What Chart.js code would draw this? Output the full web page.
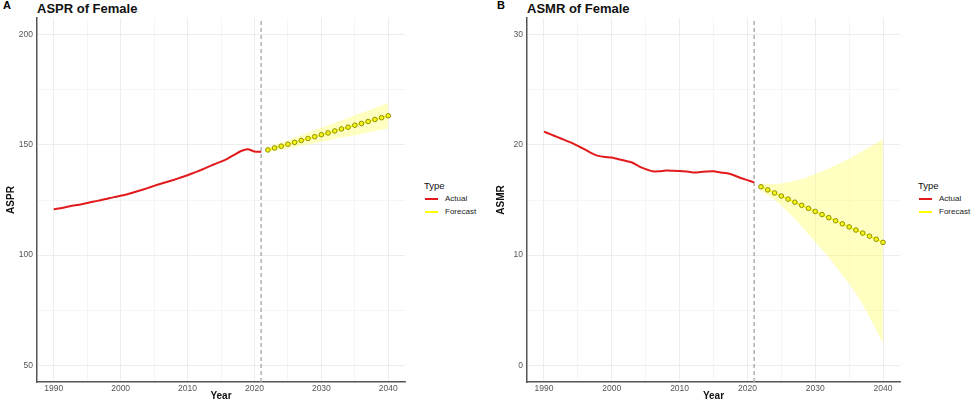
<!DOCTYPE html>
<html>
<head>
<meta charset="utf-8">
<script src="https://cdn.jsdelivr.net/npm/chart.js@4.4.0/dist/chart.umd.min.js"></script>
<style>
  body { margin: 0; background: #fff; width: 972px; height: 402px; overflow: hidden;
         font-family: "Liberation Sans", Arial, sans-serif; position: relative; }
  .box { position: absolute; top: 0; height: 402px; }
  .tag { position: absolute; font-weight: bold; font-size: 11px; line-height: 12px; color: #000; }
  .title { position: absolute; font-weight: bold; font-size: 13px; line-height: 15px; color: #111; }
  .legend { position: absolute; color: #222; }
  .legend .head { font-size: 9.5px; line-height: 11px; color: #111; }
  .legend .row { position: relative; height: 13.4px; font-size: 8px; line-height: 13.4px; }
  .legend .key { position: absolute; top: 6px; width: 13px; height: 2px; }
</style>
</head>
<body>

<div class="tag" style="left:3px; top:-1px;">A</div>
<div class="title" style="left:37px; top:1px;">ASPR of Female</div>
<div class="box" style="left:0; width:410px;"><canvas id="chartA"></canvas></div>
<div class="legend" style="left:424px; top:180px;">
  <div class="head">Type</div>
  <div class="row" style="margin-top:1px;"><span class="key" style="left:1px; background:#e31a1c;"></span><span style="margin-left:21px;">Actual</span></div>
  <div class="row"><span class="key" style="left:1px; background:#ffff00;"></span><span style="margin-left:21px;">Forecast</span></div>
</div>

<div class="tag" style="left:497px; top:-1px;">B</div>
<div class="title" style="left:527px; top:1px;">ASMR of Female</div>
<div class="box" style="left:490px; width:415px;"><canvas id="chartB"></canvas></div>
<div class="legend" style="left:918px; top:180px;">
  <div class="head">Type</div>
  <div class="row" style="margin-top:1px;"><span class="key" style="left:1px; background:#e31a1c;"></span><span style="margin-left:21px;">Actual</span></div>
  <div class="row"><span class="key" style="left:1px; background:#ffff00;"></span><span style="margin-left:21px;">Forecast</span></div>
</div>

<script>
// years
const actualYears = [1990, 1991, 1992, 1993, 1994, 1995, 1996, 1997, 1998, 1999,
  2000, 2001, 2002, 2003, 2004, 2005, 2006, 2007, 2008, 2009,
  2010, 2011, 2012, 2013, 2014, 2015, 2016, 2017, 2018, 2019, 2020, 2021];
const forecastYears = [2022, 2023, 2024, 2025, 2026, 2027, 2028, 2029, 2030,
  2031, 2032, 2033, 2034, 2035, 2036, 2037, 2038, 2039, 2040];
const cutYear = 2021;

// grid positions (labels only on the major ones)
const xTicks = [1990, 1995, 2000, 2005, 2010, 2015, 2020, 2025, 2030, 2035, 2040];
const xMajor = 10;
const asprTicks = [50, 75, 100, 125, 150, 175, 200];
const asmrTicks = [0, 5, 10, 15, 20, 25, 30];

// ASPR (panel A)
const asprActual = [120.8, 121.3, 121.9, 122.5, 123.0, 123.6, 124.3, 124.9, 125.6, 126.3,
  126.9, 127.6, 128.5, 129.4, 130.4, 131.4, 132.4, 133.3, 134.2, 135.2,
  136.2, 137.4, 138.6, 139.9, 141.2, 142.4, 143.8, 145.5, 147.2, 148.0, 147.0, 146.8];
const asprForecast = [147.7, 148.6, 149.4, 150.3, 151.1, 152.0, 152.9, 153.7, 154.6,
  155.4, 156.3, 157.2, 158.0, 158.9, 159.7, 160.6, 161.5, 162.3, 163.2];
const asprUpper = [148.9, 150.0, 151.1, 152.2, 153.3, 154.4, 155.6, 156.7, 157.8,
  158.9, 160.0, 161.1, 162.2, 163.4, 164.5, 165.6, 166.7, 167.8, 169.0];
const asprLower = [146.5, 147.2, 147.7, 148.4, 148.9, 149.6, 150.2, 150.7, 151.4,
  151.9, 152.6, 153.3, 153.8, 154.4, 154.9, 155.6, 156.3, 156.8, 157.4];

// ASMR (panel B)
const asmrActual = [21.2, 20.95, 20.7, 20.45, 20.2, 19.9, 19.6, 19.25, 19.0, 18.9,
  18.85, 18.7, 18.55, 18.4, 18.05, 17.8, 17.6, 17.6, 17.67, 17.66,
  17.64, 17.58, 17.5, 17.53, 17.58, 17.6, 17.5, 17.42, 17.25, 17.0, 16.8, 16.6];
const asmrForecast = [16.2, 15.92, 15.64, 15.36, 15.08, 14.8, 14.52, 14.24, 13.96,
  13.68, 13.4, 13.12, 12.84, 12.56, 12.28, 12.0, 11.72, 11.44, 11.16];
const asmrUpper = [16.5, 16.45, 16.45, 16.5, 16.6, 16.75, 16.9, 17.1, 17.35,
  17.6, 17.85, 18.15, 18.45, 18.75, 19.1, 19.45, 19.8, 20.15, 20.5];
const asmrLower = [15.8, 15.4, 15.0, 14.5, 13.9, 13.3, 12.6, 11.9, 11.2,
  10.5, 9.8, 9.0, 8.2, 7.4, 6.5, 5.5, 4.4, 3.2, 2.0];

const FONT = '"Liberation Sans", Arial, sans-serif';

function pairs(xs, ys) {
  return xs.map((x, i) => ({ x: x, y: ys[i] }));
}

function makePanel(id, p) {
  const ctx = document.getElementById(id).getContext('2d');
  new Chart(ctx, {
    type: 'line',
    data: {
      datasets: [
        {
          label: 'Actual',
          data: pairs(actualYears, p.actual),
          borderColor: '#e31a1c',
          borderWidth: 2,
          pointRadius: 0,
          tension: 0.2,
          fill: false,
          order: 0
        },
        {
          label: 'Forecast',
          data: pairs(forecastYears, p.forecast),
          borderColor: '#ffff00',
          borderWidth: 1.5,
          pointRadius: 2.3,
          pointBackgroundColor: '#f4f41a',
          pointBorderColor: '#8f8f00',
          pointBorderWidth: 1,
          fill: false,
          order: 0
        },
        {
          // dashed line at the last observed year
          label: 'cut',
          data: [{ x: cutYear, y: p.yMin }, { x: cutYear, y: p.yMax }],
          borderColor: '#b0b0b0',
          borderWidth: 1.5,
          borderDash: [4, 3],
          pointRadius: 0,
          fill: false,
          order: 1
        },
        {
          label: 'upper',
          data: pairs(forecastYears, p.upper),
          borderWidth: 0,
          borderColor: 'rgba(0,0,0,0)',
          backgroundColor: 'rgba(255,255,110,0.42)',
          pointRadius: 0,
          fill: '+1',
          order: 2
        },
        {
          label: 'lower',
          data: pairs(forecastYears, p.lower),
          borderWidth: 0,
          borderColor: 'rgba(0,0,0,0)',
          pointRadius: 0,
          fill: false,
          order: 2
        }
      ]
    },
    options: {
      responsive: true,
      maintainAspectRatio: false,
      animation: false,
      layout: { padding: { top: 18, right: 3, left: 0, bottom: 0 } },
      plugins: {
        legend: { display: false },
        tooltip: { enabled: false }
      },
      scales: {
        x: {
          type: 'linear',
          min: 1987.5,
          max: 2042.5,
          afterFit: (s) => { s.height = 20; },
          afterBuildTicks: (s) => { s.ticks = xTicks.map((v) => ({ value: v })); },
          border: { display: true, color: '#555', width: 1.5 },
          grid: {
            drawTicks: false,
            color: (c) => (c.tick && c.tick.value % xMajor === 0) ? '#e9e9e9' : '#f3f3f3',
            lineWidth: 0.8
          },
          ticks: {
            autoSkip: false,
            maxRotation: 0,
            padding: 2,
            color: '#555',
            font: { family: FONT, size: 8.5 },
            callback: (v) => (v % xMajor === 0 ? String(v) : '')
          },
          title: {
            display: true,
            text: 'Year',
            color: '#111',
            padding: { top: 0, bottom: 0 },
            font: { family: FONT, size: 10, weight: 'bold' }
          }
        },
        y: {
          min: p.yMin,
          max: p.yMax,
          afterFit: (s) => { s.width = 37; },
          afterBuildTicks: (s) => { s.ticks = p.yTicks.map((v) => ({ value: v })); },
          border: { display: true, color: '#555', width: 1.5 },
          grid: {
            drawTicks: false,
            color: (c) => (c.tick && c.tick.value % p.major === 0) ? '#e9e9e9' : '#f3f3f3',
            lineWidth: 0.8
          },
          ticks: {
            autoSkip: false,
            padding: 4,
            color: '#555',
            font: { family: FONT, size: 8.5 },
            callback: (v) => (v % p.major === 0 ? String(v) : '')
          },
          title: {
            display: true,
            text: p.yTitle,
            color: '#111',
            padding: { top: 5, bottom: 0 },
            font: { family: FONT, size: 10, weight: 'bold' }
          }
        }
      }
    }
  });
}

makePanel('chartA', {
  actual: asprActual, forecast: asprForecast, upper: asprUpper, lower: asprLower,
  yMin: 42.5, yMax: 207.5, yTicks: asprTicks, major: 50, yTitle: 'ASPR'
});

makePanel('chartB', {
  actual: asmrActual, forecast: asmrForecast, upper: asmrUpper, lower: asmrLower,
  yMin: -1.5, yMax: 31.5, yTicks: asmrTicks, major: 10, yTitle: 'ASMR'
});
</script>
</body>
</html>
